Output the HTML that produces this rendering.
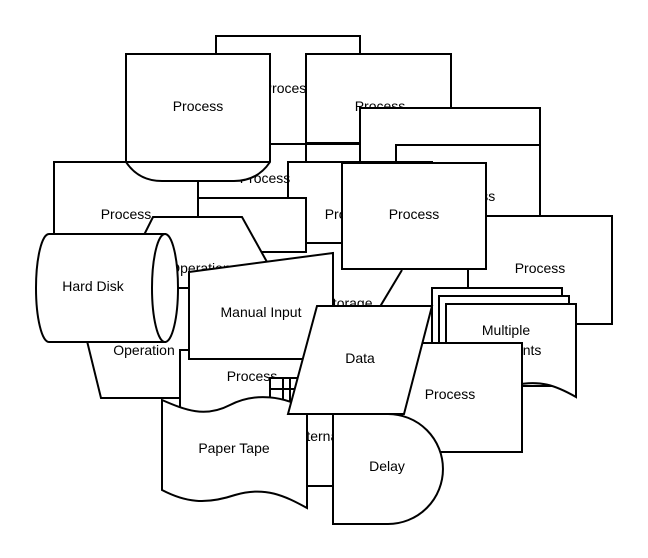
<!DOCTYPE html>
<html><head><meta charset="utf-8"><style>
html,body{margin:0;padding:0;background:#fff}
svg{display:block}
text{font-family:"Liberation Sans",sans-serif;font-size:14px;text-anchor:middle;dominant-baseline:central;fill:#000;stroke:none}
</style></head><body>
<svg width="648" height="558" viewBox="0 0 648 558" xmlns="http://www.w3.org/2000/svg">
<g fill="#fff" stroke="#000" stroke-width="2">
<rect x="216" y="36" width="144" height="108"/><text x="288" y="88">Process</text>
<rect x="306" y="54" width="145" height="89"/><text x="380" y="106">Process</text>
<rect x="360" y="108" width="180" height="108"/>
<rect x="396" y="145" width="144" height="107"/><text x="470" y="196">Process</text>
<rect x="468" y="216" width="144" height="108"/><text x="540" y="268">Process</text>
<line x1="306" y1="143" x2="306" y2="162"/>
<rect x="288" y="162" width="144" height="81"/><text x="350" y="214">Process</text>
<rect x="198" y="198" width="108" height="54"/>
<text x="265" y="178">Process</text>
<rect x="54" y="162" width="144" height="108"/><text x="126" y="214">Process</text>
<path d="M126,54 H270 V162 C262,174 250,181 234,181 H162 C146,181 134,174 126,162 Z"/>
<line x1="126" y1="162" x2="270" y2="162"/>
<text x="198" y="106">Process</text>
<path d="M333,252 V310 H378 L402,270"/>
<text x="348" y="303">Storage</text>
<polygon points="153,217 242,217 302,325 99,325"/>
<text x="200" y="268">Operation</text>
<polygon points="74,288 210,288 188,398 101,398"/>
<text x="144" y="350">Operation</text>
<path d="M49,234 H165 V342 H49 A13,54 0 0 1 49,234 Z"/>
<ellipse cx="165" cy="288" rx="13" ry="54"/>
<text x="93" y="286">Hard Disk</text>
<rect x="180" y="350" width="136" height="100"/>
<text x="252" y="376">Process</text>
<polygon points="189,272 333,253 333,359 189,359"/>
<text x="261" y="312">Manual Input</text>
<rect x="270" y="378" width="63" height="108"/>
<line x1="270" y1="389" x2="333" y2="389"/>
<line x1="283" y1="378" x2="283" y2="486"/>
<line x1="290" y1="378" x2="290" y2="486"/>
<text x="318" y="436">Internal</text>
<path d="M162,400 C185,410 205,418 230,405 C255,392 285,396 307,410 V508 C285,496 265,486 235,495 C205,505 185,502 162,490 Z"/>
<text x="234" y="448">Paper Tape</text>
<rect x="432" y="288" width="130" height="90"/>
<rect x="439" y="296" width="130" height="90"/>
<path d="M446,304 H576 V397 C555,385 540,380 515,385 C490,392 470,395 446,390 Z"/>
<text x="506" y="330">Multiple</text>
<text x="506" y="350">Documents</text>
<rect x="402" y="343" width="120" height="109"/><text x="450" y="394">Process</text>
<path d="M333,414 H388 A55,55 0 0 1 388,524 H333 Z"/>
<text x="387" y="466">Delay</text>
<rect x="342" y="163" width="144" height="106"/><text x="414" y="214">Process</text>
<polygon points="317,306 432,306 404,414 288,414"/>
<text x="360" y="358">Data</text>
</g>
</svg>
</body></html>
